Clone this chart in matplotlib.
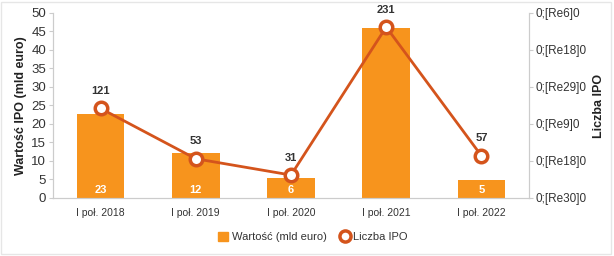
import matplotlib.pyplot as plt
from matplotlib.lines import Line2D
from matplotlib.patches import Patch, Rectangle

plt.rcParams['font.family'] = ['Liberation Sans', 'DejaVu Sans']

periods = ['I poł. 2018', 'I poł. 2019', 'I poł. 2020', 'I poł. 2021', 'I poł. 2022']
value_bn = [22.7, 12.2, 5.4, 46.0, 4.9]
value_labels = ['23', '12', '6', '', '5']
ipo_count = [121, 53, 31, 231, 57]
right_ticks = [0, 50, 100, 150, 200, 250]
right_tick_labels = ['0;[Re30]0', '0;[Re18]0', '0;[Re9]0', '0;[Re29]0', '0;[Re18]0', '0;[Re6]0']

bar_color = '#f7941d'
line_color = '#d4541c'
axis_gray = '#cccccc'
text_gray = '#333333'

fig = plt.figure(figsize=(6.14, 2.56), dpi=100)
ax = fig.add_axes([0.0863, 0.2266, 0.7753, 0.7227])
ax2 = ax.twinx()

# faint frame around the whole picture
fig.patches.append(Rectangle((0.001, 0.008), 0.994, 0.986, transform=fig.transFigure,
                             fill=False, edgecolor='#e6e6e6', linewidth=1))

x = list(range(len(periods)))
ax.bar(x, value_bn, width=0.5, color=bar_color, zorder=2)
for xi, v, lab in zip(x, value_bn, value_labels):
    if lab:
        ax.text(xi, 0.8, lab, ha='center', va='bottom', color='white',
                fontsize=8, fontweight='bold', zorder=3)

ax2.plot(x, ipo_count, color=line_color, linewidth=2, marker='o', markersize=9,
         markerfacecolor='white', markeredgecolor=line_color, markeredgewidth=2.5, zorder=4)
for xi, n in zip(x, ipo_count):
    ax2.annotate(str(n), (xi, n), xytext=(0, 9), textcoords='offset points',
                 ha='center', va='bottom', fontsize=8, fontweight='bold', color=text_gray)

ax.set_xlim(-0.5, len(periods) - 0.5)
ax.set_ylim(0, 50)
ax.set_yticks(range(0, 51, 5))
ax2.set_ylim(0, 250)
ax2.set_yticks(right_ticks)
ax2.set_yticklabels(right_tick_labels)

ax.set_xticks(x)
ax.set_xticklabels(periods)

for a in (ax, ax2):
    a.spines['top'].set_visible(False)
    for side in ('left', 'right', 'bottom'):
        a.spines[side].set_color(axis_gray)
    a.tick_params(colors=axis_gray, labelcolor=text_gray, length=3)
ax.set_zorder(1)
ax2.set_zorder(2)
ax.patch.set_visible(False)
ax2.patch.set_visible(False)

ax.tick_params(axis='y', labelsize=9.5, pad=2)
ax.tick_params(axis='x', labelsize=7.5, length=0, pad=7)
ax2.tick_params(axis='y', labelsize=8.5, pad=1.5)

ax.set_ylabel('Wartość IPO (mld euro)', fontsize=9, fontweight='bold', color='#222222', labelpad=3)
ax2.set_ylabel('Liczba IPO', fontsize=9, fontweight='bold', color='#222222', labelpad=5)

handles = [
    Patch(facecolor=bar_color, edgecolor=bar_color),
    Line2D([], [], linestyle='none', marker='o', markersize=8, markerfacecolor='white',
           markeredgecolor=line_color, markeredgewidth=2.5),
]
fig.legend(handles, ['Wartość (mld euro)', 'Liczba IPO'], loc='center',
           bbox_to_anchor=(0.51, 0.075), ncol=2, frameon=False, fontsize=8,
           handlelength=0.9, handleheight=0.9, handletextpad=0.3, columnspacing=1.2,
           labelcolor=text_gray)

fig.savefig('out.png', dpi=100)
